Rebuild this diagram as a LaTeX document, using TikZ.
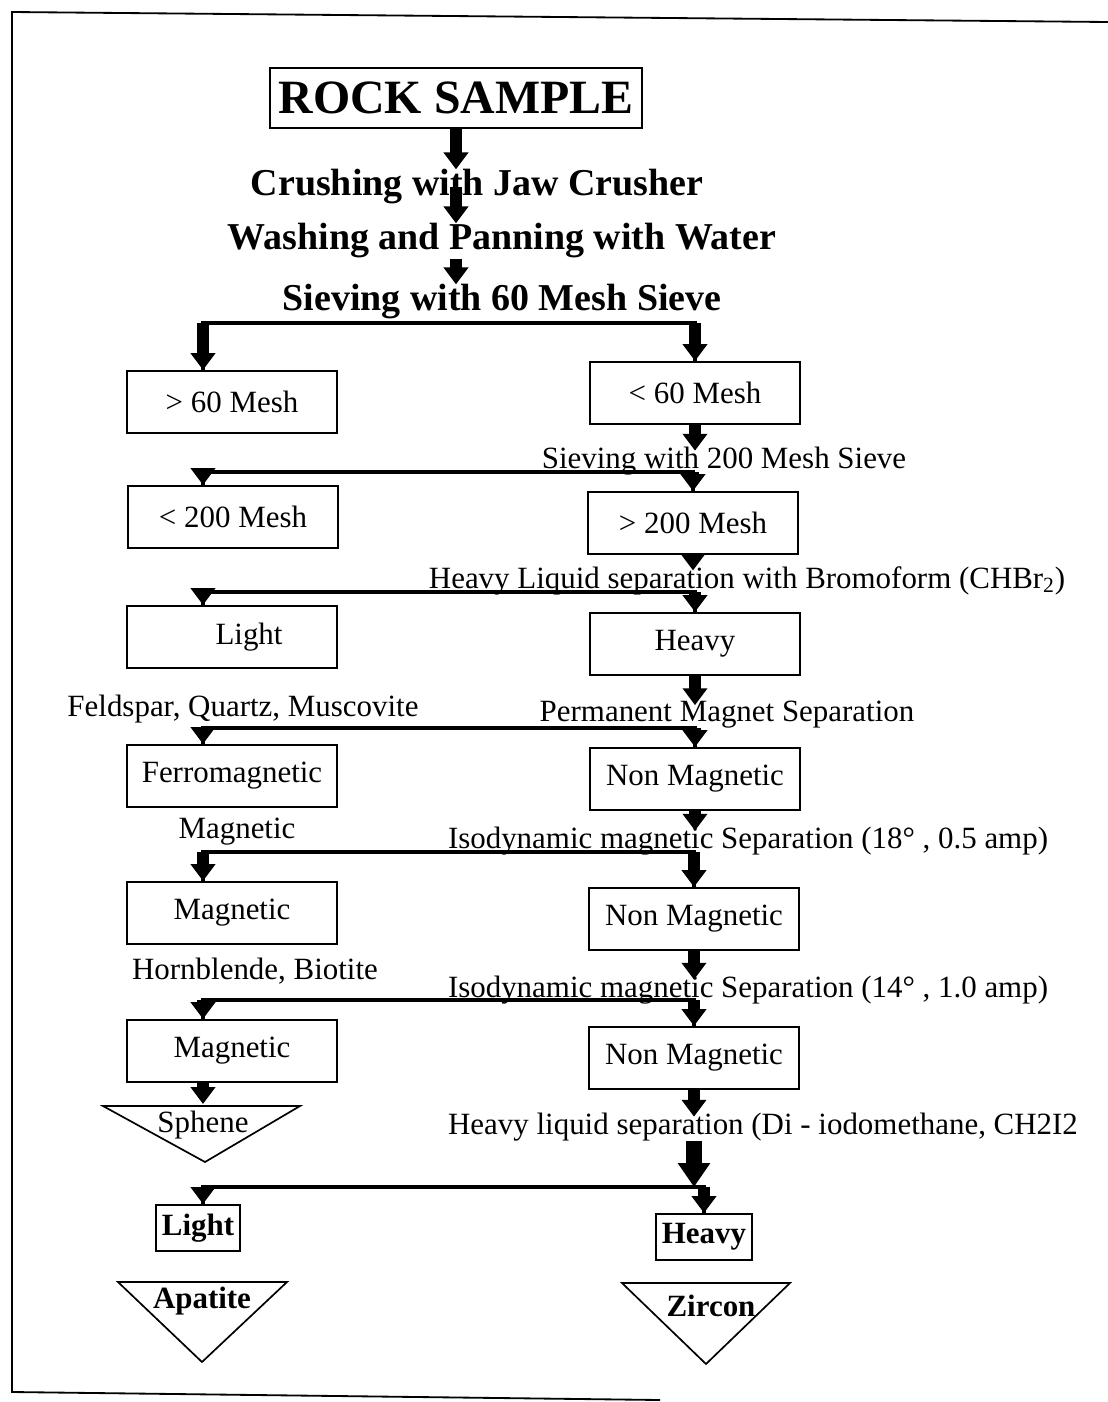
\documentclass[tikz,border=0pt]{standalone}
\usepackage{fontspec}
\setmainfont{Liberation Serif}
\usepackage{tikz}
\usetikzlibrary{arrows.meta,positioning,calc}

\newcommand\notefont{\fontsize{22}{26}\selectfont}
\newcommand\stagefont{\fontsize{27}{32}\selectfont\bfseries}
\newcommand\titlefont{\fontsize{34}{40}\selectfont\bfseries}

\tikzset{
  mbox/.style={draw, line width=1.4pt, minimum width=5.25cm, minimum height=1.55cm, inner sep=2pt, font=\notefont},
  smallbox/.style={draw, line width=1.4pt, minimum height=1.15cm, inner xsep=4pt, font=\notefont\bfseries},
  note/.style={inner sep=0pt, yshift=-0.075cm, font=\notefont},
  stage/.style={inner sep=0pt, yshift=-0.1cm, font=\stagefont},
  flow/.style={line width=8.5pt, -{Triangle[width=17pt,length=12pt]}},
  bigflow/.style={line width=11pt, -{Triangle[width=22pt,length=17pt]}},
  bar/.style={line width=3.5pt, line join=miter},
  tip/.style={shorten >=-0.1cm}
}

\begin{document}
\begin{tikzpicture}[x=0.025cm, y=-0.025cm]
\useasboundingbox (0,0) rectangle (1108,1402);
%%the frame of the page
\draw[line width=1.3pt] (1108,22) -- (12,12) -- (12,1392) -- (660,1400);

%%first steps
\node[draw, line width=1.8pt, minimum width=9.3cm, minimum height=1.5cm, font=\titlefont] (rock) at (456,98) {ROCK SAMPLE};
\node[stage] (crush) at (477,183) {Crushing with Jaw Crusher};
\node[stage] (wash) at (502,237) {Washing and Panning with Water};
\node[stage] (sieve60) at (502,298) {Sieving with 60 Mesh Sieve};

\path (203,0) coordinate (lcol);
\path (450,323) coordinate (f1)
      (450,472) coordinate (f2)
      (450,592) coordinate (f3)
      (450,728) coordinate (f4)
      (450,852) coordinate (f5)
      (450,1000) coordinate (f6)
      (450,1187) coordinate (f7);

%%boxes and the separations between them
\node[mbox] (gt60) at (232,402) {\textgreater{} 60 Mesh};
\node[mbox] (lt60) at (695,393) {\textless{} 60 Mesh};
\node[note] (sieve200) at (724,458) {Sieving with 200 Mesh Sieve};
\node[mbox] (lt200) at (233,517) {\textless{} 200 Mesh};
\node[mbox] (gt200) at (693,523) {\textgreater{} 200 Mesh};
\node[note] (bromo) at (747,578) {Heavy Liquid separation with Bromoform (CHBr\textsubscript{2})};
\node[mbox] (light) at (232,637) {\hspace{1.1em}Light};
\node[mbox] (heavy) at (695,644) {Heavy};
\node[note] (felds) at (243,706) {Feldspar, Quartz, Muscovite};
\node[note] (permag) at (727,712) {Permanent Magnet Separation};
\node[mbox] (ferro) at (232,776) {Ferromagnetic};
\node[mbox] (nonmag1) at (695,779) {Non Magnetic};
\node[note] (magtxt) at (237,829) {Magnetic};
\node[note] (iso1) at (748,838) {Isodynamic magnetic Separation (18° , 0.5 amp)};
\node[mbox] (mag1) at (232,913) {Magnetic};
\node[mbox] (nonmag2) at (694,919) {Non Magnetic};
\node[note] (hornb) at (255,968) {Hornblende, Biotite};
\node[note] (iso2) at (748,987) {Isodynamic magnetic Separation (14° , 1.0 amp)};
\node[mbox] (mag2) at (232,1051) {Magnetic};
\node[mbox] (nonmag3) at (694,1058) {Non Magnetic};
\node[note] (diiodo) at (763,1124) {Heavy liquid separation (Di - iodomethane, CH2I2};
\node[smallbox] (light2) at (198,1228) {Light};
\node[smallbox] (heavy2) at (704,1237) {Heavy};

%%the minerals at the end
\draw[line width=1.2pt] (103,1106) -- (300,1106) -- (205,1162) -- cycle;
\path (203,1104) coordinate (sphtop);
\node[note] (sphene) at (203,1122) {Sphene};
\draw[line width=1.2pt] (118,1282) -- (287,1282) -- (202,1362) -- cycle;
\node[note, font=\notefont\bfseries] (apatite) at (202,1298) {Apatite};
\draw[line width=1.2pt] (622,1283) -- (790,1283) -- (706,1364) -- cycle;
\node[note, font=\notefont\bfseries] (zircon) at (711,1303) {Zircon};

%%arrows on top of the texts
\draw[flow] (rock.south) -- (rock.south |- crush.north);
\draw[flow] (rock.south |- crush.center) -- (rock.south |- wash.north);
\draw[flow] (rock.south |- wash.south) -- (rock.south |- sieve60.north);

\draw[bar] (gt60.north -| lcol) |- (f1) -| (lt60.north);
\draw[flow] (f1 -| lcol) -- (gt60.north -| lcol);
\draw[flow] (f1 -| lt60.north) -- (lt60.north);
\draw[flow, tip] (lt60.south) -- (lt60.south |- sieve200.north);

\draw[bar] (lt200.north -| lcol) |- (f2) -| (gt200.north);
\draw[flow] (f2 -| lcol) -- (lt200.north -| lcol);
\draw[flow] (f2 -| gt200.north) -- (gt200.north);
\draw[flow, tip] (gt200.south) -- (gt200.south |- bromo.north);

\draw[bar] (light.north -| lcol) |- (f3) -| (heavy.north);
\draw[flow] (f3 -| lcol) -- (light.north -| lcol);
\draw[flow] (f3 -| heavy.north) -- (heavy.north);
\draw[flow, tip] (heavy.south) -- (heavy.south |- permag.north);

\draw[bar] (ferro.north -| lcol) |- (f4) -| (nonmag1.north);
\draw[flow] (f4 -| lcol) -- (ferro.north -| lcol);
\draw[flow] (f4 -| nonmag1.north) -- (nonmag1.north);
\draw[flow, tip] (nonmag1.south) -- (nonmag1.south |- iso1.north);

\draw[bar] (mag1.north -| lcol) |- (f5) -| (nonmag2.north);
\draw[flow] (f5 -| lcol) -- (mag1.north -| lcol);
\draw[flow] (f5 -| nonmag2.north) -- (nonmag2.north);
\draw[flow, tip] (nonmag2.south) -- (nonmag2.south |- iso2.north);

\draw[bar] (mag2.north -| lcol) |- (f6) -| (nonmag3.north);
\draw[flow] (f6 -| lcol) -- (mag2.north -| lcol);
\draw[flow] (f6 -| nonmag3.north) -- (nonmag3.north);
\draw[flow] (mag2.south -| lcol) -- (sphtop);
\draw[flow, tip] (nonmag3.south) -- (nonmag3.south |- diiodo.north);

\draw[bigflow] (nonmag3.south |- diiodo.south) -- (f7 -| nonmag3.south);
\draw[bar] (light2.north -| lcol) |- (f7) -| (heavy2.north);
\draw[flow] (f7 -| lcol) -- (light2.north -| lcol);
\draw[flow] (f7 -| heavy2.north) -- (heavy2.north);
\end{tikzpicture}
\end{document}
